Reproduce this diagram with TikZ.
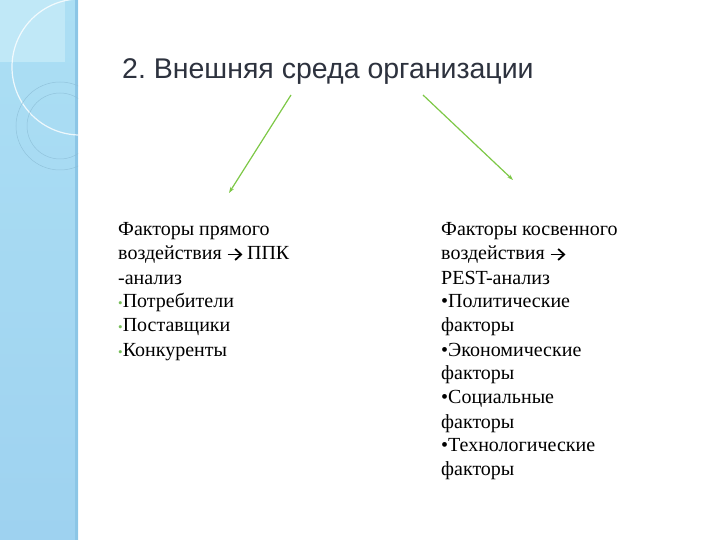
\documentclass[tikz,border=0pt]{standalone}
\usepackage{fontspec}
\setmainfont{Liberation Serif}
\newfontfamily\titlefont{Liberation Sans}
\usetikzlibrary{arrows.meta}
\definecolor{bandtop}{RGB}{172,223,244}
\definecolor{bandbot}{RGB}{158,210,240}
\definecolor{bandlight}{RGB}{192,232,247}
\definecolor{bandedge}{RGB}{140,198,230}
\definecolor{ringcol}{RGB}{140,190,215}
\definecolor{arrgreen}{RGB}{125,200,70}
\definecolor{bulgreen}{RGB}{120,190,90}
\definecolor{titlecol}{RGB}{45,50,62}
\newcommand{\txtarrow}{\tikz[baseline=-0.6ex]{\draw[line width=1.8pt] (0pt,0pt)--(13pt,0pt);\draw[line width=1.8pt, line join=miter, line cap=butt] (7.5pt,5.5pt)--(13.5pt,0pt)--(7.5pt,-5.5pt);}}
\newcommand{\gbul}{{\color{bulgreen}\fontsize{13}{13}\selectfont•}}
\tikzset{
  coltext/.style={anchor=base west, inner sep=0pt, font=\fontsize{20}{24}\selectfont},
  greenarrow/.style={draw=arrgreen, line width=1.2pt, -{Stealth[length=6pt,width=4pt]}}
}
\begin{document}
\frenchspacing
\begin{tikzpicture}[x=1pt,y=-1pt]
\useasboundingbox (0,0) rectangle (720,540);
\fill[white] (0,0) rectangle (720,540);
% side band
\shade[top color=bandtop, bottom color=bandbot] (0,0) rectangle (78,540);
\fill[bandlight] (0,0) rectangle (65,62);
\fill[bandedge] (75,0) rectangle (78,540);
\begin{scope}
\clip (0,0) rectangle (78,540);
\draw[white, line width=1.2pt, opacity=0.8] (80,67) circle (68);
\draw[ringcol, line width=0.5pt, opacity=0.8] (60,126) circle (44);
\draw[ringcol, line width=0.5pt, opacity=0.8] (60,126) circle (33);
\end{scope}
% title
\node[anchor=base west, inner sep=0pt, font=\titlefont\fontsize{28.5}{30}\selectfont, text=titlecol] (title) at (122,79) {2. Внешняя среда организации};
% columns
\node[coltext] (left) at (118,236) {\begin{tabular}[t]{@{}l@{}}Факторы прямого\\воздействия \txtarrow{} ППК\\-анализ\\\gbul Потребители\\\gbul Поставщики\\\gbul Конкуренты\end{tabular}};
\node[coltext] (right) at (441,236) {\begin{tabular}[t]{@{}l@{}}Факторы косвенного\\воздействия \txtarrow\\PEST-анализ\\•Политические\\факторы\\•Экономические\\факторы\\•Социальные\\факторы\\•Технологические\\факторы\end{tabular}};
% arrows
\coordinate (l1) at (291,95);
\coordinate (l2) at (229,193);
\coordinate (r1) at (423,95);
\coordinate (r2) at (513,180);
\draw[greenarrow] (l1) -- (l2);
\draw[greenarrow] (r1) -- (r2);
\end{tikzpicture}
\end{document}
